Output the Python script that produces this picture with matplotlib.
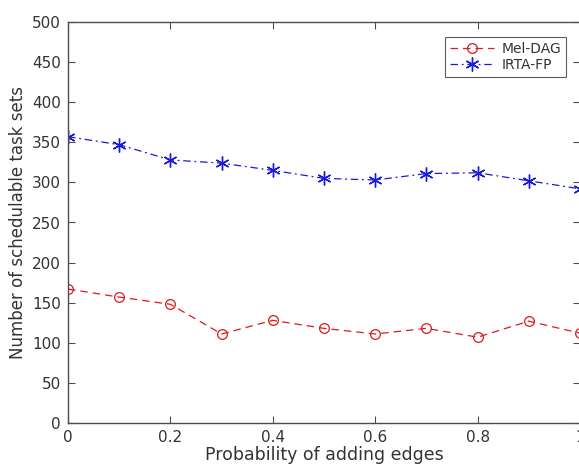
import matplotlib
matplotlib.use("Agg")
import matplotlib.pyplot as plt

# Probability of adding edges
prob = [0.0, 0.1, 0.2, 0.3, 0.4, 0.5, 0.6, 0.7, 0.8, 0.9, 1.0]
# Number of schedulable task sets
mel_dag = [167, 157, 148, 111, 128, 118, 111, 118, 107, 127, 112]
irta_fp = [357, 347, 328, 324, 315, 305, 303, 311, 312, 302, 292]

xticks = [0, 0.2, 0.4, 0.6, 0.8, 1]
xticklabels = ["0", "0.2", "0.4", "0.6", "0.8", "1"]
yticks = list(range(0, 501, 50))

W, H = 579, 469
fig = plt.figure(figsize=(W / 100, H / 100), dpi=100)
ax = fig.add_axes([68 / W, 46 / H, 512 / W, 401 / H])

red = "#dc1a1a"
blue = "#1a1adc"
ax.plot(prob, mel_dag, color=red, linestyle=(0, (6, 4)), linewidth=0.9,
        marker="o", markersize=7, markerfacecolor="none",
        markeredgecolor=red, markeredgewidth=0.9, label="Mel-DAG")
ax.plot(prob, irta_fp, color=blue, linestyle=(0, (6, 3, 1.5, 3)), linewidth=0.9,
        marker=(6, 2, 0), markersize=10,
        markeredgecolor=blue, markeredgewidth=1.0, label="IRTA-FP")

ax.set_xlim(0, 1)
ax.set_ylim(0, 500)
ax.set_xticks(xticks)
ax.set_xticklabels(xticklabels)
ax.set_yticks(yticks)

spine_col = "#4d4d4d"
for s in ax.spines.values():
    s.set_color(spine_col)
    s.set_linewidth(1.0)
ax.tick_params(direction="in", top=True, right=True, length=5, width=0.8,
               color=spine_col, labelsize=11, labelcolor="#333333", pad=5)

ax.set_xlabel("Probability of adding edges", fontsize=12.5, color="#333333", labelpad=1)
ax.yaxis.set_label_coords(-0.098, 0.5)
ax.set_ylabel("Number of schedulable task sets", fontsize=12, color="#333333",
              va="center")

leg = ax.legend(loc="upper right", bbox_to_anchor=(0.9727, 0.9626), fontsize=10,
                frameon=True, fancybox=False, handlelength=3.2, borderpad=0.35,
                labelspacing=0.15, handletextpad=0.5, borderaxespad=0)
leg.get_frame().set_edgecolor("#333333")
leg.get_frame().set_linewidth(0.8)
for t in leg.get_texts():
    t.set_color("#333333")

fig.savefig("out.png", dpi=100)
